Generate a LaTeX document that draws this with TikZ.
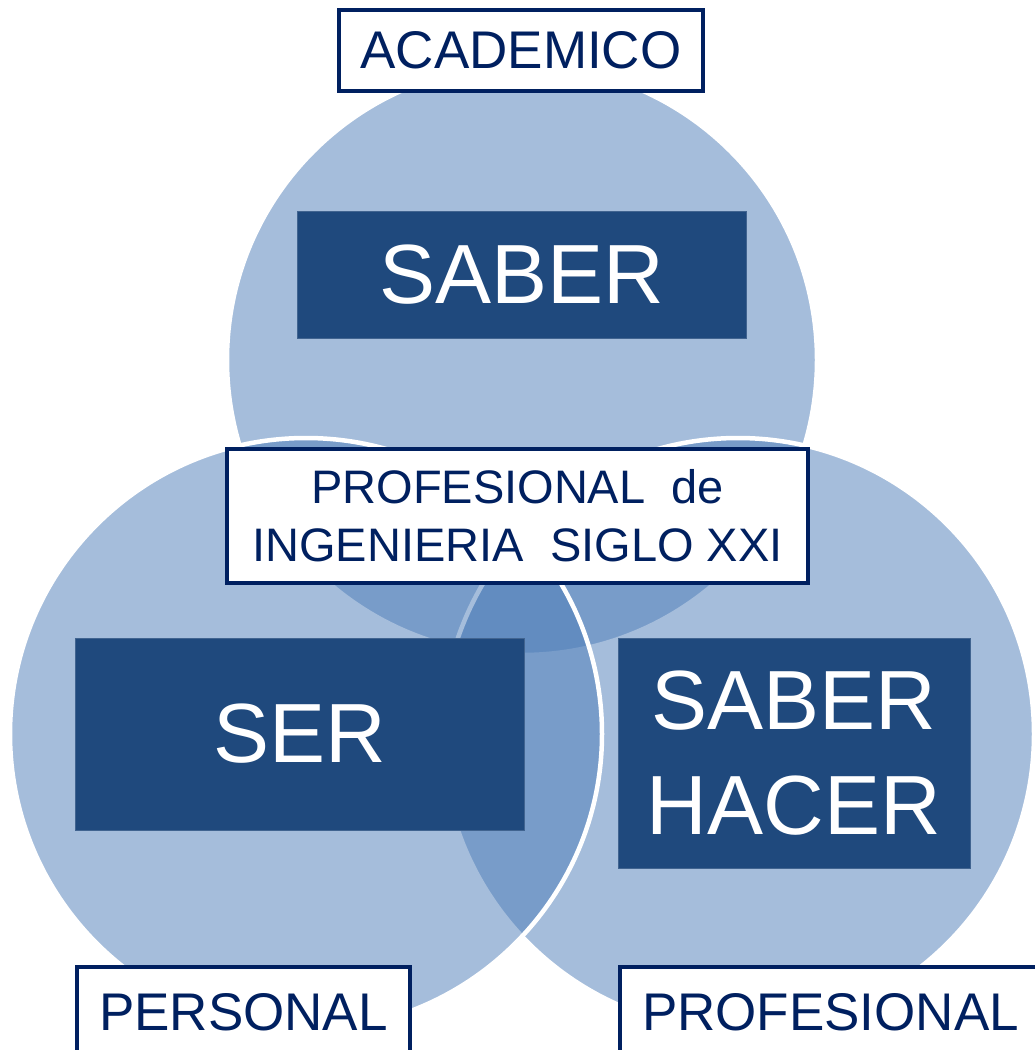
\documentclass[tikz,border=0pt]{standalone}
\usepackage{fontspec}
\setmainfont{Liberation Sans}
\definecolor{navy}{HTML}{002060}
\definecolor{boxblue}{HTML}{1F497D}
\definecolor{circfill}{HTML}{4D7DB9}
\begin{document}
\begin{tikzpicture}[x=1pt,y=-1pt,
  venn/.style={fill=circfill, fill opacity=0.5, draw=white, draw opacity=1, line width=4.5pt},
  labelbox/.style={draw=navy, line width=4pt, fill=white, text=navy, inner sep=0pt, align=center},
  darkbox/.style={fill=boxblue, draw=boxblue!85!white, line width=1pt, text=white, inner sep=0pt, align=center},
  smallfont/.style={font=\fontsize{53}{60}\selectfont},
  midfont/.style={font=\fontsize{47}{58}\selectfont},
  bigfont/.style={font=\fontsize{84}{105}\selectfont}]
\useasboundingbox (0,0) rectangle (1034,1050);
\fill[white] (0,0) rectangle (1034,1050);
% circles: top, right, left
\draw[venn] (522,360) circle[radius=295pt];
\draw[venn] (738,734) circle[radius=296pt];
\draw[venn] (306,734) circle[radius=296pt];
% label boxes
\node[labelbox, smallfont, minimum width=364pt, minimum height=81pt] (acad) at (521,50.5) {ACADEMICO};
\node[darkbox, bigfont, minimum width=449pt, minimum height=127pt] (saber) at (521.5,275) {SABER};
\node[labelbox, midfont, minimum width=581pt, minimum height=134pt] (prof) at (517.5,516) {PROFESIONAL\ \ de\\INGENIERIA\ \ SIGLO XXI};
\node[darkbox, bigfont, minimum width=449pt, minimum height=192pt] (ser) at (299.5,734) {SER};
\node[darkbox, bigfont, minimum width=352pt, minimum height=230pt] (hacer) at (794,753) {SABER\\HACER};
\node[labelbox, smallfont, inner xsep=0pt, inner ysep=25pt, text height=38pt, text depth=80pt, minimum width=333pt, anchor=base] (pers) at (243.5,1030) {PERSONAL};
\node[labelbox, smallfont, inner xsep=0pt, inner ysep=25pt, text height=38pt, text depth=80pt, minimum width=421pt, anchor=base] (profl) at (830.5,1030) {PROFESIONAL};
\end{tikzpicture}
\end{document}
